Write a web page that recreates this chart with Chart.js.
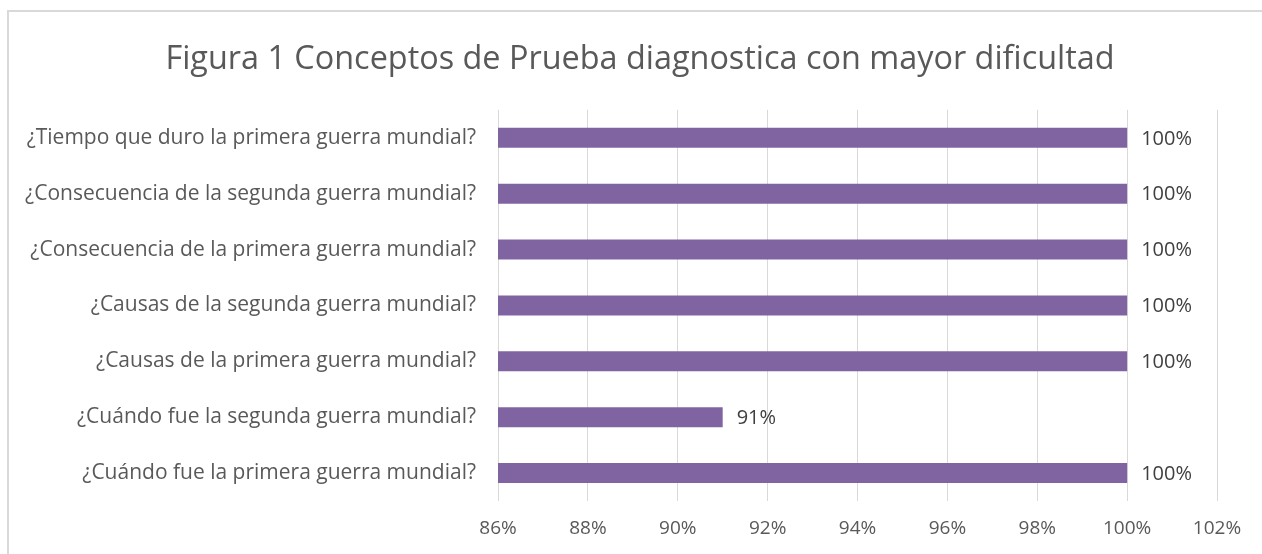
<!DOCTYPE html>
<html>
<head>
<meta charset="utf-8">
<script src="https://cdn.jsdelivr.net/npm/chart.js@4/dist/chart.umd.min.js"></script>
<style>
html,body{margin:0;padding:0;background:#fff;overflow:hidden;}
#wrap{position:relative;width:1262px;height:554px;}
</style>
</head>
<body>
<div id="wrap"><canvas id="c" width="1262" height="554"></canvas></div>
<script>
const titleText = 'Figura 1 Conceptos de Prueba diagnostica con mayor dificultad';
const categories = [
  '¿Tiempo que duro la primera guerra mundial?',
  '¿Consecuencia de la segunda guerra mundial?',
  '¿Consecuencia de la primera guerra mundial?',
  '¿Causas de la segunda guerra mundial?',
  '¿Causas de la primera guerra mundial?',
  '¿Cuándo fue la segunda guerra mundial?',
  '¿Cuándo fue la primera guerra mundial?'
];
const values = [100, 100, 100, 100, 100, 91, 100];
const axisMin = 86, axisMax = 102, axisStep = 2;

const FONT = "'Open Sans', sans-serif";
const TXT = '#595959';

const borderPlugin = {
  id: 'border',
  beforeDraw(chart) {
    const ctx = chart.ctx;
    ctx.save();
    ctx.fillStyle = '#fff';
    ctx.fillRect(0, 0, chart.width, chart.height);
    ctx.strokeStyle = '#d9d9d9';
    ctx.lineWidth = 2;
    ctx.strokeRect(8, 11, chart.width + 20, chart.height + 20);
    ctx.restore();
  }
};

const titleShift = {
  id: 'titleShift',
  afterLayout(chart) {
    const t = chart.titleBlock;
    if (t) { t.left = 63; t.width = t.right - t.left; }
  }
};

const labelPlugin = {
  id: 'valueLabels',
  afterDatasetsDraw(chart) {
    const ctx = chart.ctx;
    const meta = chart.getDatasetMeta(0);
    ctx.save();
    ctx.font = '20px ' + FONT;
    ctx.fillStyle = '#404040';
    ctx.textAlign = 'left';
    ctx.textBaseline = 'middle';
    meta.data.forEach((bar, i) => {
      ctx.fillText(values[i] + '%', bar.x + 14, bar.y + 1);
    });
    ctx.restore();
  }
};

new Chart(document.getElementById('c'), {
  type: 'bar',
  data: {
    labels: categories,
    datasets: [{
      data: values,
      backgroundColor: '#8064A2',
      borderColor: '#8064A2',
      borderWidth: 0,
      barPercentage: 0.72,
      categoryPercentage: 0.5
    }]
  },
  options: {
    indexAxis: 'y',
    responsive: false,
    animation: false,
    devicePixelRatio: 1,
    layout: { padding: { left: 0, right: 45, top: 0, bottom: 0 } },
    plugins: {
      legend: { display: false },
      tooltip: { enabled: false },
      title: {
        display: true,
        text: titleText,
        color: TXT,
        font: { family: FONT, size: 32.4, weight: 'normal' },
        padding: { top: 40, bottom: 31 }
      }
    },
    scales: {
      x: {
        min: axisMin,
        max: axisMax,
        ticks: {
          stepSize: axisStep,
          color: TXT,
          font: { family: FONT, size: 19 },
          padding: 16,
          callback: v => v + '%'
        },
        grid: { color: '#d9d9d9', drawTicks: false, lineWidth: 1 },
        border: { display: false },
        afterFit(s) { s.height = 53; }
      },
      y: {
        ticks: {
          color: TXT,
          font: { family: FONT, size: 21 },
          padding: 22
        },
        grid: { display: false, drawTicks: false },
        border: { display: false },
        afterFit(s) { s.width = 498; }
      }
    }
  },
  plugins: [borderPlugin, titleShift, labelPlugin]
});
</script>
</body>
</html>
